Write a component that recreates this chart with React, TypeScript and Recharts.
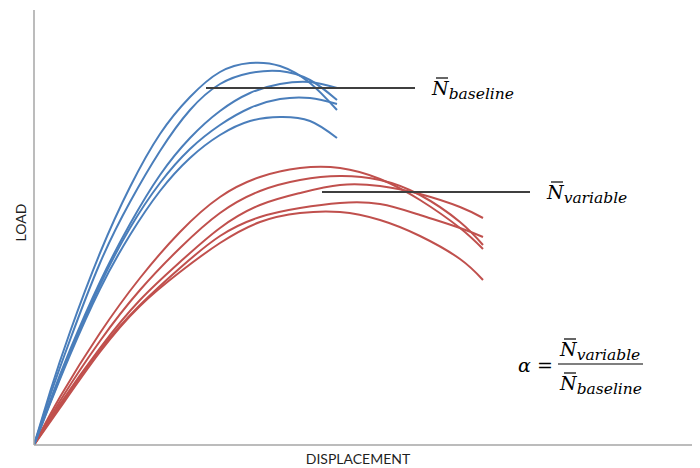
import { Customized, Label, Line, LineChart, ReferenceLine, XAxis, YAxis } from "recharts";

const WIDTH = 700;
const HEIGHT = 468;

// Displacement samples shared by each group of test runs.
const BASELINE_DISP = [0, 16, 36, 66, 96, 126, 156, 186, 216, 246, 276, 303];
const VARIABLE_DISP = [0, 26, 66, 106, 146, 186, 226, 266, 306, 346, 386, 426, 449];

// Load readings for the baseline runs.
const BASELINE_1 = [0, 53, 113, 192, 258, 311, 348, 373, 382, 379, 362, 335];
const BASELINE_2 = [0, 49, 105, 182, 243, 294, 335, 361, 372, 374, 365, 345];
const BASELINE_3 = [0, 44, 95, 163, 221, 270, 307, 334, 352, 361, 363, 357];
const BASELINE_4 = [0, 42, 92, 160, 217, 262, 296, 320, 337, 346, 347, 341];
const BASELINE_5 = [0, 41, 90, 156, 210, 254, 287, 310, 324, 328, 324, 307];

// Load readings for the variable runs.
const VARIABLE_1 = [0, 48, 112, 167, 213, 248, 268, 277, 277, 266, 245, 217, 196];
const VARIABLE_2 = [0, 44, 104, 155, 197, 232, 254, 265, 269, 265, 250, 223, 200];
const VARIABLE_3 = [0, 41, 97, 145, 183, 217, 240, 252, 260, 259, 251, 238, 227];
const VARIABLE_4 = [0, 39, 95, 140, 177, 209, 228, 237, 242, 241, 230, 217, 208];
const VARIABLE_5 = [0, 37, 93, 139, 173, 202, 223, 232, 233, 225, 209, 186, 165];

// Mean peak loads, drawn as horizontal markers.
const MEAN_BASELINE = { load: 357, from: 172, to: 381 };
const MEAN_VARIABLE = { load: 253, from: 288, to: 496 };

const BLUE = "#4a7ebb";
const RED = "#c0504d";
const AXIS = "#a6a6a6";
const MARKER = "#3f3f3f";
const MATH_FONT = "'DejaVu Serif', serif";
const TITLE_FONT = "Lato, 'Noto Sans', sans-serif";

const toPoints = (disp: number[], load: number[]) =>
  disp.map((d, i) => ({ disp: d, load: load[i] }));

const baselineRuns = [BASELINE_1, BASELINE_2, BASELINE_3, BASELINE_4, BASELINE_5].map((r) =>
  toPoints(BASELINE_DISP, r)
);
const variableRuns = [VARIABLE_1, VARIABLE_2, VARIABLE_3, VARIABLE_4, VARIABLE_5].map((r) =>
  toPoints(VARIABLE_DISP, r)
);

// N with an overbar followed by an italic subscript.
function MeanSymbol({ x, y, sub }: { x: number; y: number; sub: string }) {
  return (
    <g>
      <text x={x} y={y} fontFamily={MATH_FONT} fontStyle="italic" fill="#000">
        <tspan fontSize={19}>N</tspan>
        <tspan fontSize={15.5} dy={4}>
          {sub}
        </tspan>
      </text>
      <line x1={x + 4} x2={x + 16} y1={y - 17} y2={y - 17} stroke="#000" strokeWidth={1.2} />
    </g>
  );
}

const meanLabel = (sub: string) => (props: any) => {
  const vb = props.viewBox;
  if (!vb) return null;
  return <MeanSymbol x={vb.x + vb.width + 17} y={vb.y + 7} sub={sub} />;
};

function Ratio() {
  return (
    <g>
      <text x={518} y={372} fontFamily={MATH_FONT} fontStyle="italic" fontSize={19} fill="#000">
        α
      </text>
      <text x={537} y={372} fontFamily={MATH_FONT} fontSize={19} fill="#000">
        =
      </text>
      <line x1={558} x2={643} y1={364} y2={364} stroke="#000" strokeWidth={1.2} />
      <MeanSymbol x={560} y={356} sub="variable" />
      <MeanSymbol x={560} y={390} sub="baseline" />
    </g>
  );
}

export default function App() {
  return (
    <div
      style={{ position: "absolute", left: 0, top: 0, width: WIDTH, height: HEIGHT, background: "#fff" }}
    >
      <LineChart width={WIDTH} height={HEIGHT} margin={{ top: 10, right: 8, bottom: 0, left: 0 }}>
        <XAxis
          type="number"
          dataKey="disp"
          domain={[0, 658]}
          allowDataOverflow
          tick={false}
          tickLine={false}
          height={23}
          axisLine={{ stroke: AXIS, strokeWidth: 1.5 }}
        >
          <Label
            content={(p: any) => (
              <text
                x={p.viewBox.x + p.viewBox.width / 2 - 5}
                y={p.viewBox.y + 19}
                textAnchor="middle"
                fontFamily={TITLE_FONT}
                fontSize={14}
                fill="#1f1f1f"
              >
                DISPLACEMENT
              </text>
            )}
          />
        </XAxis>
        <YAxis
          type="number"
          domain={[0, 435]}
          allowDataOverflow
          tick={false}
          tickLine={false}
          width={34}
          axisLine={{ stroke: AXIS, strokeWidth: 1.5 }}
        >
          <Label
            content={(p: any) => {
              const x = p.viewBox.x + 26;
              const y = p.viewBox.y + p.viewBox.height / 2 - 5;
              return (
                <text
                  x={x}
                  y={y}
                  transform={`rotate(-90 ${x} ${y})`}
                  textAnchor="middle"
                  fontFamily={TITLE_FONT}
                  fontSize={14}
                  fill="#1f1f1f"
                >
                  LOAD
                </text>
              );
            }}
          />
        </YAxis>

        {variableRuns.map((data, i) => (
          <Line
            key={`v${i}`}
            data={data}
            dataKey="load"
            type="natural"
            stroke={RED}
            strokeWidth={2}
            dot={false}
            activeDot={false}
            isAnimationActive={false}
          />
        ))}
        {baselineRuns.map((data, i) => (
          <Line
            key={`b${i}`}
            data={data}
            dataKey="load"
            type="natural"
            stroke={BLUE}
            strokeWidth={2}
            dot={false}
            activeDot={false}
            isAnimationActive={false}
          />
        ))}

        <ReferenceLine
          segment={[
            { x: MEAN_BASELINE.from, y: MEAN_BASELINE.load },
            { x: MEAN_BASELINE.to, y: MEAN_BASELINE.load },
          ]}
          stroke={MARKER}
          strokeWidth={2}
          label={meanLabel("baseline")}
        />
        <ReferenceLine
          segment={[
            { x: MEAN_VARIABLE.from, y: MEAN_VARIABLE.load },
            { x: MEAN_VARIABLE.to, y: MEAN_VARIABLE.load },
          ]}
          stroke={MARKER}
          strokeWidth={2}
          label={meanLabel("variable")}
        />
        <Customized component={Ratio} />
      </LineChart>
    </div>
  );
}
